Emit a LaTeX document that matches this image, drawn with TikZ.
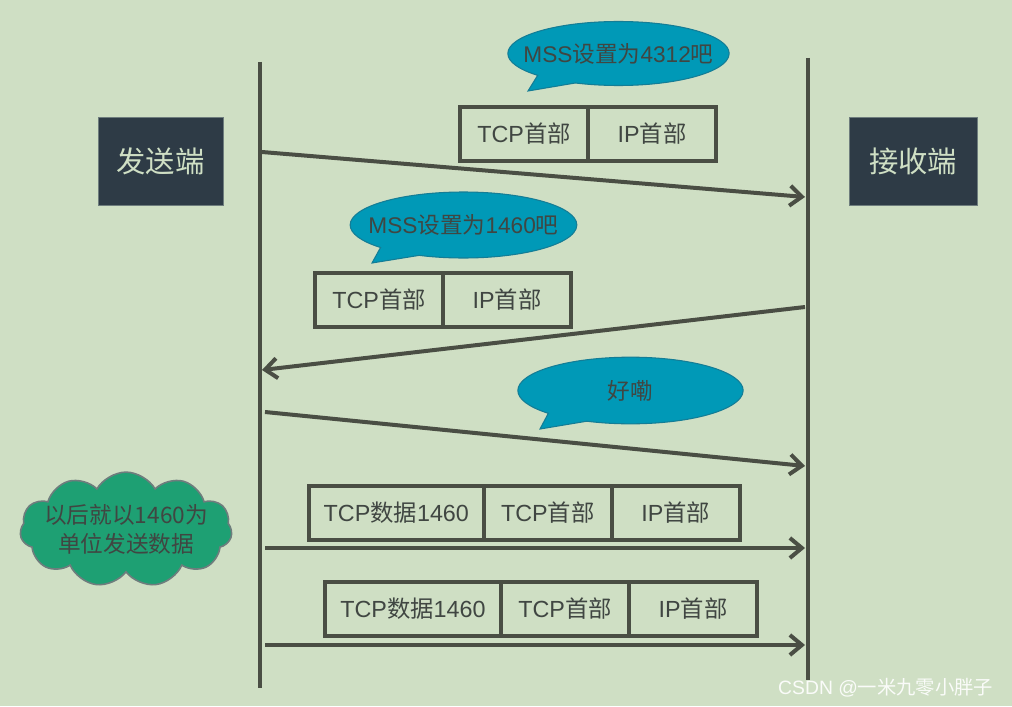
\documentclass[tikz,border=0pt]{standalone}
\usepackage{fontspec}
\setmainfont{Liberation Sans}
\newfontfamily\zhfont{Noto Sans CJK SC}
\newcommand{\zh}[1]{{\zhfont #1}}
\usetikzlibrary{positioning}
\usetikzlibrary{shapes.callouts}
\usetikzlibrary{shapes.symbols}
\usetikzlibrary{arrows.meta}

\definecolor{paper}{RGB}{207,223,196}
\definecolor{ink}{RGB}{74,78,68}
\definecolor{txt}{RGB}{64,70,66}
\definecolor{hostfill}{RGB}{46,59,70}
\definecolor{talkfill}{RGB}{0,153,183}
\definecolor{talkedge}{RGB}{20,125,150}
\definecolor{cloudfill}{RGB}{30,160,115}
\definecolor{cloudedge}{RGB}{110,125,125}

\tikzset{
  host/.style={fill=hostfill, draw=cloudedge, line width=0.5pt, minimum height=66pt, text=paper, font=\zhfont\fontsize{22}{26}\selectfont},
  seg/.style={draw=ink, line width=3pt, minimum height=40.5pt, minimum width=96pt, inner sep=0pt, outer sep=0pt, text=txt, font=\fontsize{17.5}{20}\selectfont},
  talk/.style={ellipse callout, fill=talkfill, draw=talkedge, line width=0.8pt, callout pointer arc=24, inner xsep=-45pt, inner ysep=0pt, text=txt, font=\fontsize{17}{20}\selectfont},
  msg/.style={-{Straight Barb[length=9pt,width=15pt]}, draw=ink, line width=3pt},
  life/.style={draw=ink, line width=3pt}
}

\begin{document}
\begin{tikzpicture}[x=0.75pt, y=-0.75pt]

  \fill[paper] (0,0) rectangle (1012,706);
  \useasboundingbox (0,0) rectangle (1012,706);

  % Define nodes
  \node[host, minimum width=94pt] (sender) at (160.5,161) {发送端};
  \node[host, minimum width=96pt] (receiver) at (913,161) {接收端};

  \coordinate (sTop) at (260,62);
  \coordinate (sBot) at (260,688);
  \coordinate (rTop) at (808,58);
  \coordinate (rBot) at (808,680);

  \node[talk, minimum width=166pt, minimum height=48pt, callout absolute pointer={(528,91)}] (ask1) at (618.5,53.5) {MSS\zh{设置为}4312\zh{吧}};
  \node[seg, anchor=west] (tcp1) at (460,134) {TCP\zh{首部}};
  \node[seg, right=0pt of tcp1] (ip1) {IP\zh{首部}};

  \node[talk, minimum width=170pt, minimum height=49.5pt, callout absolute pointer={(372,263)}] (ask2) at (463.5,225) {MSS\zh{设置为}1460\zh{吧}};
  \node[seg, anchor=west] (tcp2) at (315,300) {TCP\zh{首部}};
  \node[seg, right=0pt of tcp2] (ip2) {IP\zh{首部}};

  \node[talk, minimum width=169pt, minimum height=50pt, callout absolute pointer={(540,429)}] (ok) at (630.5,390.5) {\zh{好嘞}};

  \node[cloud, cloud puffs=11, cloud puff arc=120, aspect=2, fill=cloudfill, draw=cloudedge, line width=1.2pt, minimum width=159pt, minimum height=70pt, inner sep=-14pt, align=center, text=txt, font=\zhfont\fontsize{17}{22}\selectfont] (note) at (126,529.5) {以后就以1460为\\单位发送数据};

  \node[seg, anchor=west, minimum width=131pt] (data3) at (309,512.5) {TCP\zh{数据}1460};
  \node[seg, right=0pt of data3] (tcp3) {TCP\zh{首部}};
  \node[seg, right=0pt of tcp3] (ip3) {IP\zh{首部}};

  \node[seg, anchor=west, minimum width=132pt] (data4) at (325,608.5) {TCP\zh{数据}1460};
  \node[seg, right=0pt of data4] (tcp4) {TCP\zh{首部}};
  \node[seg, right=0pt of tcp4] (ip4) {IP\zh{首部}};

  \node[anchor=east, text=white, opacity=0.9, font=\fontsize{14.5}{16}\selectfont] (mark) at (998,688) {CSDN @\zh{一米九零小胖子}};

  \coordinate (s1) at (262,152);  \coordinate (r1) at (805,197);
  \coordinate (r2) at (805,307);  \coordinate (s2) at (262,370);
  \coordinate (s3) at (265,412);  \coordinate (r3) at (805,466);
  \coordinate (s4) at (265,548);  \coordinate (r4) at (805,548);
  \coordinate (s5) at (265,645);  \coordinate (r5) at (805,645);

  % Connect the nodes
  \draw[life] (sTop) -- (sBot);
  \draw[life] (rTop) -- (rBot);
  \draw[msg] (s1) -- (r1);
  \draw[msg] (r2) -- (s2);
  \draw[msg] (s3) -- (r3);
  \draw[msg] (s4) -- (r4);
  \draw[msg] (s5) -- (r5);

\end{tikzpicture}
\end{document}
